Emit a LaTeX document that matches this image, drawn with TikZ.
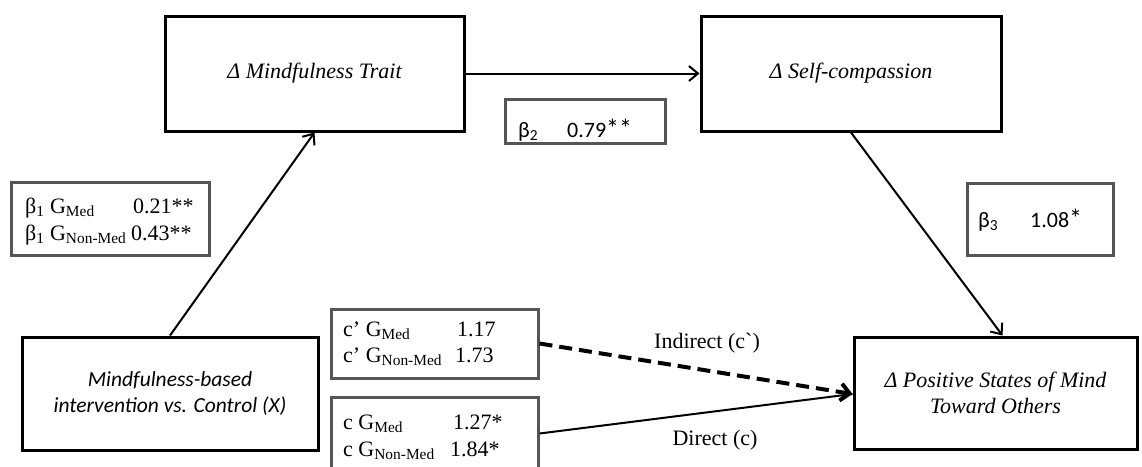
\documentclass[tikz,border=0pt]{standalone}
\usepackage{fontspec}
\setmainfont{Liberation Serif}
\newfontfamily\calibrifam{Carlito}
\usetikzlibrary{arrows.meta}
\definecolor{lblgray}{RGB}{85,85,85}
\newcommand\diagfont{\fontsize{22}{26.5}\selectfont}
\tikzset{
  mainbox/.style={draw=black, line width=3pt, rectangle, inner sep=0pt, align=center, font=\diagfont\itshape},
  lblbox/.style={draw=lblgray, line width=3pt, rectangle, inner sep=0pt},
  lbltext/.style={anchor=base west, inner sep=0pt, font=\diagfont},
  cfont/.style={font=\diagfont\calibrifam},
  conn/.style={line width=2pt, -{Straight Barb[length=9pt,width=15pt]}},
  dconn/.style={line width=4pt, dash pattern=on 13pt off 7pt, -{Straight Barb[length=9pt,width=17pt]}},
  plain/.style={line width=2pt},
  edgelbl/.style={anchor=base, inner sep=0pt, font=\diagfont}
}
\begin{document}
\begin{tikzpicture}[x=1pt,y=-1pt]
\useasboundingbox (0,0) rectangle (1142,466);
\clip (0,0) rectangle (1142,466);
% main boxes
\node[mainbox, minimum width=299pt, minimum height=115pt] (MT) at (314.5,73.5) {Δ Mindfulness Trait};
\node[mainbox, minimum width=300pt, minimum height=115pt] (SC) at (851,73.5) {Δ Self-compassion};
\node[mainbox, minimum width=296pt, minimum height=113pt, font=\fontsize{21.5}{26.5}\selectfont\calibrifam\itshape] (X) at (170,393.5) {Mindfulness-based\\intervention vs. Control (X)};
\node[mainbox, minimum width=283pt, minimum height=112pt] (PS) at (995.5,393) {Δ Positive States of Mind\\Toward Others};
% label boxes
\node[lblbox, minimum width=198pt, minimum height=73pt] (B1) at (110,218.5) {};
\node[lblbox, minimum width=160pt, minimum height=44pt] (B2) at (585,121) {};
\node[lblbox, minimum width=146pt, minimum height=72pt] (B3) at (1040,219) {};
\node[lblbox, minimum width=207pt, minimum height=69pt] (CP) at (434.5,343.5) {};
\node[lblbox, minimum width=207pt, minimum height=73pt] (C) at (434.5,433.5) {};
% label texts
\node[lbltext] (b1a) at (25,213) {β\textsubscript{1} G\textsubscript{Med}};
\node[lbltext] (b1av) at (133,213) {0.21**};
\node[lbltext] (b1b) at (25,240) {β\textsubscript{1} G\textsubscript{Non-Med}};
\node[lbltext] (b1bv) at (131,240) {0.43**};
\node[lbltext, cfont] (b2a) at (518,137) {β\textsubscript{2}};
\node[lbltext, cfont] (b2v) at (567,137) {0.79{\fontsize{26}{26}\selectfont**}};
\node[lbltext, cfont] (b3a) at (978,227) {β\textsubscript{3}};
\node[lbltext, cfont] (b3v) at (1030,227) {1.08{\fontsize{26}{26}\selectfont*}};
\node[lbltext] (cpa) at (343,336) {c’ G\textsubscript{Med}};
\node[lbltext] (cpav) at (457,336) {1.17};
\node[lbltext] (cpb) at (343,362) {c’ G\textsubscript{Non-Med}};
\node[lbltext] (cpbv) at (455,362) {1.73};
\node[lbltext] (ca) at (343,429) {c G\textsubscript{Med}};
\node[lbltext] (cav) at (453,429) {1.27*};
\node[lbltext] (cb) at (343,456) {c G\textsubscript{Non-Med}};
\node[lbltext] (cbv) at (450,456) {1.84*};
% edge labels
\node[edgelbl] (lind) at (707,348) {Indirect (c\textasciigrave)};
\node[edgelbl] (ldir) at (715,445) {Direct (c)};
% connectors
\draw[conn] (X.north) -- (MT.south);
\draw[conn] (MT.east) -- (SC.west);
\draw[conn] (SC.south) -- ([xshift=7pt]PS.north);
\draw[plain] (C.east) -- ([yshift=-1pt]PS.west);
\draw[dconn] (CP.east) -- ([yshift=-1pt]PS.west);
\end{tikzpicture}
\end{document}
